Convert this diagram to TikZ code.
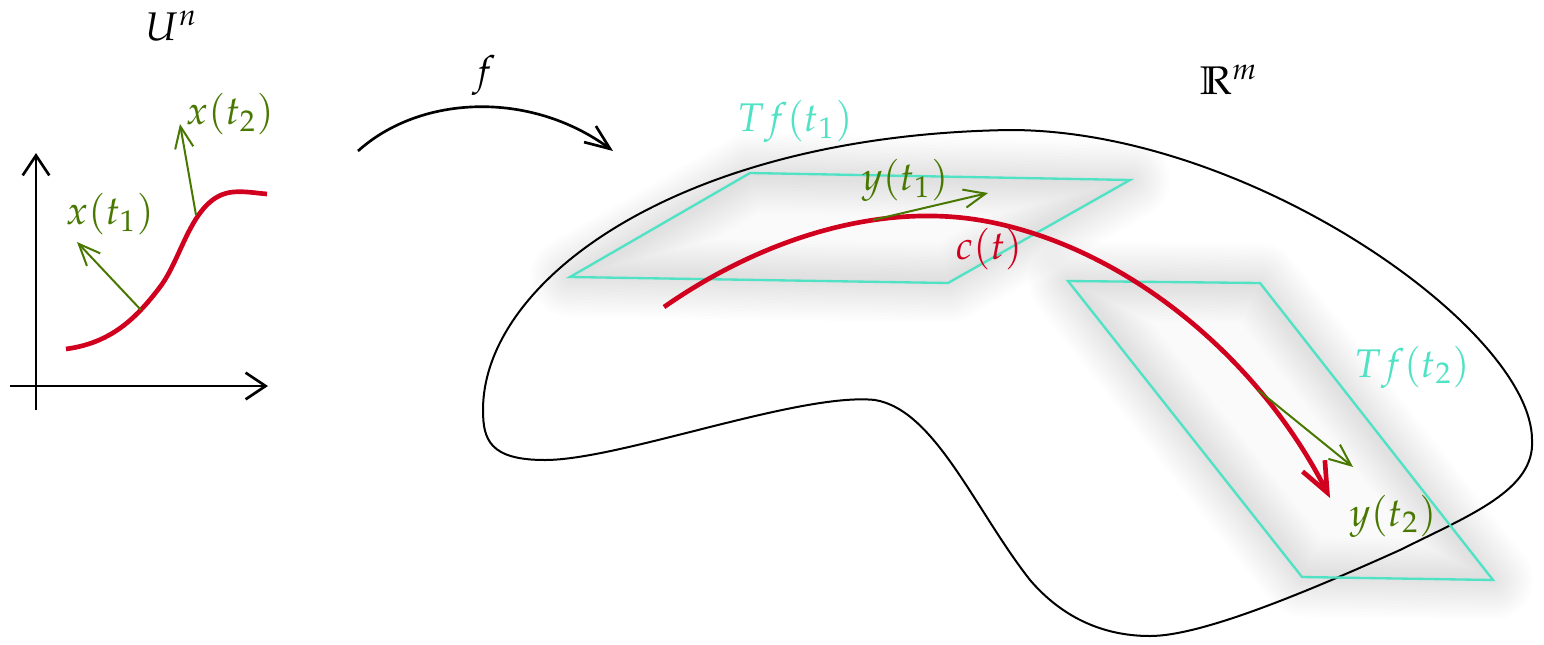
\documentclass[tikz,border=0pt]{standalone}
\usepackage{mathpazo}
\usepackage{tikz}
\usetikzlibrary{arrows.meta}

\definecolor{curvered}{RGB}{208,0,30}
\definecolor{vecgreen}{RGB}{72,120,0}
\definecolor{planecyan}{RGB}{80,226,196}

\begin{document}
\begin{tikzpicture}[x=0.3pt, y=-0.3pt, font=\large,
  axis/.style={line width=0.8pt, -{Straight Barb[length=6pt,width=8pt]}},
  vec/.style={vecgreen, line width=0.6pt, -{Straight Barb[length=6.5pt,width=5.5pt]}},
  plane/.style={planecyan, line width=0.7pt},
  curve/.style={curvered, line width=1.4pt}]
\useasboundingbox (0,0) rectangle (1544,644);

% --- the domain U^n ---
\draw[axis] (10,386) -- (268,386);
\draw[axis] (36,410) -- (36,153);
\node (dom) at (172,26) {$U^n$};
\draw[curve] (66,349) .. controls (110,343) and (135,320) .. (160,287)
  .. controls (183,257) and (192,196) .. (233,192)
  .. controls (245,191) and (255,193) .. (267,194);
\coordinate (xa) at (141,310);
\coordinate (xatip) at (77,242);
\coordinate (xb) at (196,215);
\coordinate (xbtip) at (180,124);
\draw[vec] (xa) -- (xatip);
\draw[vec] (xb) -- (xbtip);
\node[vecgreen] (xalabel) at (110,214) {$x(t_1)$};
\node[vecgreen] (xblabel) at (230,114) {$x(t_2)$};

% --- the map f ---
\coordinate (fstart) at (358,151);
\coordinate (fend) at (613,151);
\draw[line width=0.8pt, -{Straight Barb[length=7.5pt,width=6pt]}]
  (fstart) .. controls (420,95) and (530,90) .. (fend);
\node (flabel) at (484,75) {$f$};

% --- the image in R^m ---
\node (cod) at (1229,80) {$\mathbb{R}^m$};
\draw[line width=0.6pt] (483,410) .. controls (483,280) and (680,135) .. (1010,130)
  .. controls (1250,130) and (1532,330) .. (1532,440)
  .. controls (1535,490) and (1470,515) .. (1400,550)
  .. controls (1300,595) and (1200,636) .. (1150,636)
  .. controls (1100,636) and (1060,615) .. (1030,580)
  .. controls (975,510) and (935,410) .. (875,400)
  .. controls (800,392) and (620,460) .. (545,460)
  .. controls (490,460) and (483,440) .. (483,410) -- cycle;

% tangent planes, with a soft halo
\coordinate (p1a) at (750,173);  \coordinate (p1b) at (1130,180);
\coordinate (p1c) at (948,283);  \coordinate (p1d) at (570,277);
\coordinate (p2a) at (1068,281); \coordinate (p2b) at (1260,283);
\coordinate (p2c) at (1493,580); \coordinate (p2d) at (1302,577);
\foreach \k in {1,...,14}{
  \draw[black, opacity=0.006, line width=\k*1.7pt, line join=round]
    (p1a) -- (p1b) -- (p1c) -- (p1d) -- cycle;
  \draw[black, opacity=0.006, line width=\k*1.7pt, line join=round]
    (p2a) -- (p2b) -- (p2c) -- (p2d) -- cycle;
}
\fill[black, opacity=0.02] (p1a) -- (p1b) -- (p1c) -- (p1d) -- cycle;
\fill[black, opacity=0.02] (p2a) -- (p2b) -- (p2c) -- (p2d) -- cycle;
\draw[plane] (p1a) -- (p1b) -- (p1c) -- (p1d) -- cycle;
\draw[plane] (p2a) -- (p2b) -- (p2c) -- (p2d) -- cycle;
\node[planecyan] (tfa) at (795,121) {$Tf(t_1)$};
\node[planecyan] (tfb) at (1412,367) {$Tf(t_2)$};

% curve c(t) and its velocity vectors
\draw[curve, -{Straight Barb[length=9pt,width=7.5pt]}]
  (664,307) .. controls (760,240) and (880,200) .. (990,222)
  .. controls (1130,250) and (1260,360) .. (1330,498);
\node[curvered] (clabel) at (989,249) {$c(t)$};
\coordinate (ya) at (873,220);
\coordinate (yatip) at (988,193);
\coordinate (yb) at (1258,390);
\coordinate (ybtip) at (1353,467);
\draw[vec] (ya) -- (yatip);
\draw[vec] (yb) -- (ybtip);
\node[vecgreen] (yalabel) at (905,180) {$y(t_1)$};
\node[vecgreen] (yblabel) at (1393,516) {$y(t_2)$};
\end{tikzpicture}
\end{document}
